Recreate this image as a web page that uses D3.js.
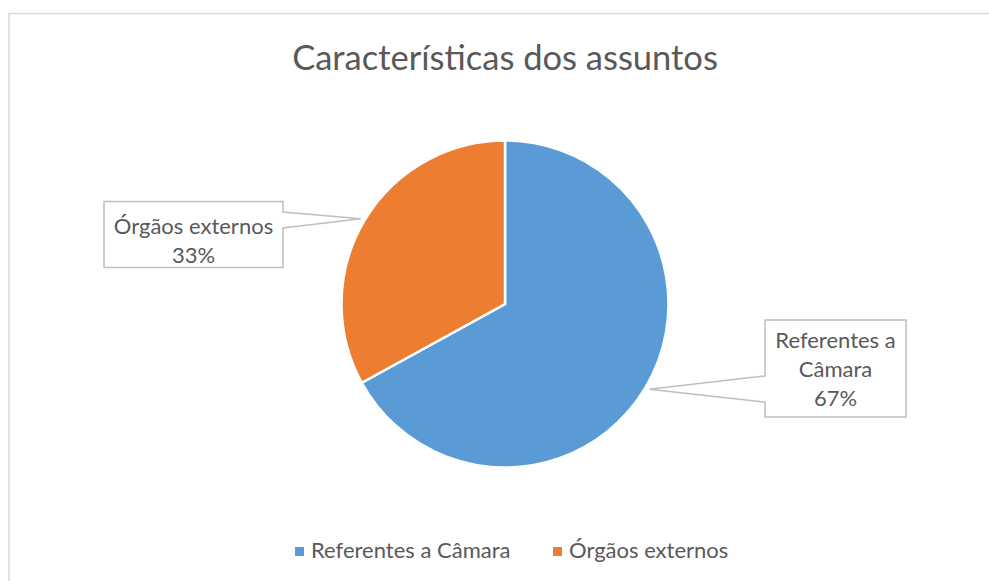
<!DOCTYPE html>
<html>
<head>
<meta charset="utf-8">
<script src="https://cdn.jsdelivr.net/npm/d3@7"></script>
<style>
  body { margin: 0; background: #fff; }
  text { font-family: Lato, "Open Sans", sans-serif; fill: #595959; }
</style>
</head>
<body>
<div id="chart"></div>
<script>
var title = 'Características dos assuntos';
var categories = ['Referentes a Câmara', 'Órgãos externos'];
var values = [67, 33];
var labelLines = [['Referentes a', 'Câmara', '67%'], ['Órgãos externos', '33%']];
var colors = ['#5B9BD5', '#ED7D31'];

(() => {
	var width = 989,
		height = 581;

	var svg = d3.select('#chart')
				.append('svg')
				.attr('width', width)
				.attr('height', height);

	// chart area border (runs off the right/bottom of the picture)
	svg.append('rect')
		.attr('x', 9)
		.attr('y', 13.5)
		.attr('width', 1000)
		.attr('height', 600)
		.attr('fill', 'none')
		.attr('stroke', '#d9d9d9')
		.attr('stroke-width', 1.5);

	svg.append('text')
		.attr('x', 505)
		.attr('y', 70)
		.attr('text-anchor', 'middle')
		.style('font-size', '34.5px')
		.text(title);

	var cx = 505, cy = 304, r = 163.5;

	var color = d3.scaleOrdinal()
					.domain(categories)
					.range(colors);

	var pie = d3.pie()
				.sort(null)
				.value(d => d.value);

	var arcs = pie(categories.map((c, i) => ({ name: c, value: values[i], label: labelLines[i] })));

	var arc = d3.arc().innerRadius(0).outerRadius(r);

	var g = svg.append('g')
				.attr('transform', 'translate(' + cx + ',' + cy + ')');

	g.selectAll('path')
		.data(arcs)
		.enter()
			.append('path')
			.attr('d', arc)
			.attr('fill', d => color(d.data.name))
			.attr('stroke', '#fff')
			.attr('stroke-width', 2.5);

	// callout boxes
	var boxes = [
		{ x: 765, y: 320, w: 141, h: 97, side: 'left', b0: 376, b1: 402, dy: 8.5 },
		{ x: 104, y: 201.5, w: 179, h: 66, side: 'right', b0: 212, b1: 228, dy: 14 }
	];

	arcs.forEach((d, i) => {
		var b = boxes[i];
		var mid = (d.startAngle + d.endAngle) / 2;
		var tx = cx + Math.sin(mid) * (r + 4),
			ty = cy - Math.cos(mid) * (r + 4);
		var p = d3.path();
		if (b.side === 'left') {
			p.moveTo(b.x, b.y);
			p.lineTo(b.x + b.w, b.y);
			p.lineTo(b.x + b.w, b.y + b.h);
			p.lineTo(b.x, b.y + b.h);
			p.lineTo(b.x, b.b1);
			p.lineTo(tx, ty);
			p.lineTo(b.x, b.b0);
			p.closePath();
		} else {
			p.moveTo(b.x, b.y);
			p.lineTo(b.x + b.w, b.y);
			p.lineTo(b.x + b.w, b.b0);
			p.lineTo(tx, ty);
			p.lineTo(b.x + b.w, b.b1);
			p.lineTo(b.x + b.w, b.y + b.h);
			p.lineTo(b.x, b.y + b.h);
			p.closePath();
		}
		svg.append('path')
			.attr('d', p.toString())
			.attr('fill', '#fff')
			.attr('stroke', '#bfbfbf')
			.attr('stroke-width', 1.5);

		var lines = d.data.label;
		var lh = 29;
		var y0 = b.y + b.h / 2 - (lines.length - 1) * lh / 2 + b.dy;
		var t = svg.append('text')
			.attr('text-anchor', 'middle')
			.style('font-size', '22px');
		lines.forEach((l, j) => {
			t.append('tspan')
				.attr('x', b.x + b.w / 2)
				.attr('y', y0 + j * lh)
				.text(l);
		});
	});

	// legend
	var legendX = [295, 553];
	var lg = svg.selectAll('.legend')
				.data(categories)
				.enter()
					.append('g')
					.attr('class', 'legend')
					.attr('transform', (d, i) => 'translate(' + legendX[i] + ',547)');

	lg.append('rect')
		.attr('width', 9)
		.attr('height', 9)
		.attr('fill', d => color(d));

	lg.append('text')
		.attr('x', 16)
		.attr('y', 11)
		.style('font-size', '22px')
		.text(d => d);
})();
</script>
</body>
</html>
